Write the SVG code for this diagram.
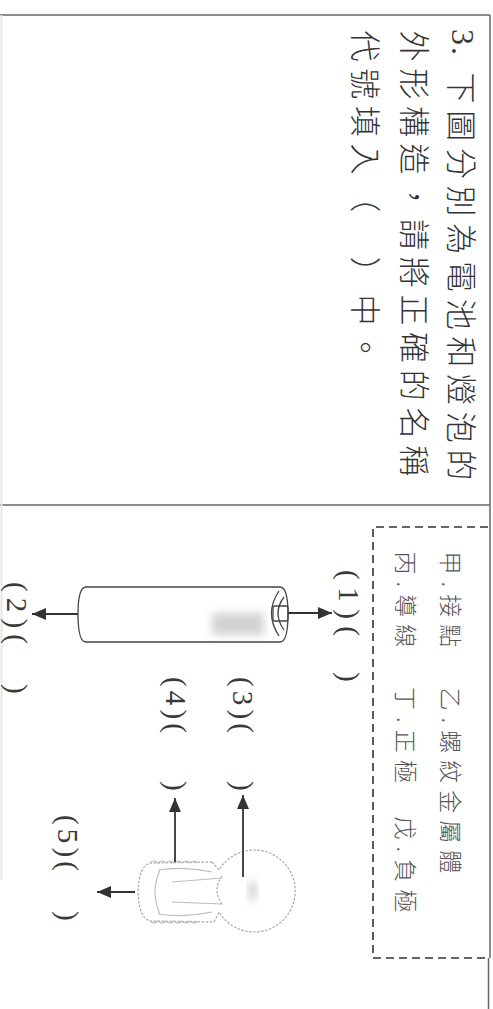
<svg xmlns="http://www.w3.org/2000/svg" width="493" height="1009" viewBox="0 0 493 1009">
  <style>
    .cjk { font-family: "Noto Sans CJK TC", "Noto Sans CJK SC", sans-serif; fill: #333; font-weight: 300; dominant-baseline: central; }
    .q { font-size: 31px; letter-spacing: 6.7px; }
    .key { font-size: 23px; letter-spacing: 7px; fill: #555; }
    .num { font-family: "Liberation Serif", serif; fill: #3a3a3a; dominant-baseline: central; }
    .lbl { font-size: 29px; }
    .frame { fill: none; stroke: #666; stroke-width: 1.5; }
    .dash { fill: none; stroke: #333; stroke-width: 1.6; stroke-dasharray: 8 5; }
    .arrow { stroke: #333; stroke-width: 1.8; fill: none; }
    .cell { fill: none; stroke: #444; stroke-width: 1.3; }
    .lamp { fill: none; stroke: #a8a8a8; stroke-width: 1.2; stroke-dasharray: 2.5 1.5; }
    .thread { fill: none; stroke: #bdbdbd; stroke-width: 1.1; }
  </style>
  <defs>
    <marker id="head" viewBox="0 0 14 12" refX="14" refY="6" markerWidth="14" markerHeight="12" markerUnits="userSpaceOnUse" orient="auto">
      <path d="M0,0 L14,6 L0,12 Z" fill="#333"/>
    </marker>
    <filter id="soft" x="-40%" y="-60%" width="180%" height="220%">
      <feGaussianBlur stdDeviation="4"/>
    </filter>
  </defs>

  <rect width="493" height="1009" fill="#fff"/>

  <!-- page frame -->
  <g id="frame">
    <line class="frame" x1="0" y1="15" x2="490" y2="15"/>
    <line class="frame" x1="0" y1="505" x2="490" y2="505"/>
    <line class="frame" x1="490" y1="15" x2="490" y2="958"/>
    <line class="frame" x1="488.5" y1="958" x2="488.5" y2="1009"/>
    <line x1="1.5" y1="15" x2="1.5" y2="880" stroke="#e6e6e6" stroke-width="2"/>
  </g>

  <!-- question text, set sideways -->
  <g id="question">
    <text class="num" font-size="32" letter-spacing="2" transform="translate(463,29) rotate(90)">3.</text>
    <text class="cjk q" transform="translate(463,72.5) rotate(90)">下圖分別為電池和燈泡的</text>
    <text class="cjk q" transform="translate(416,30.5) rotate(90)">外形構造，請將正確的名稱</text>
    <text class="cjk q" transform="translate(367,30.5) rotate(90)">代號填入（　）中。</text>
  </g>

  <!-- answer key box -->
  <g id="key">
    <path class="dash" d="M488,527 L373,527 L373,958 L488,958"/>
    <text class="cjk key" transform="translate(452,551.5) rotate(90)">甲.接點</text>
    <text class="cjk key" transform="translate(452,687.5) rotate(90)">乙.螺紋金屬體</text>
    <text class="cjk key" transform="translate(407,551.5) rotate(90)">丙.導線</text>
    <text class="cjk key" transform="translate(407,687) rotate(90)">丁.正極</text>
    <text class="cjk key" transform="translate(407,816.5) rotate(90)">戊.負極</text>
  </g>

  <!-- battery -->
  <g id="battery">
    <rect x="212" y="613" width="52" height="22" fill="#d2d2d2" filter="url(#soft)"/>
    <path class="cell" d="M86,587 L280,587 Q288,587 288,614 Q288,642 280,642 L86,642 Q78,642 78,614 Q78,587 86,587 Z"/>
    <path class="cell" d="M279,591 Q264,613 279,636"/>
    <path class="cell" d="M284,597 Q272,613 284,630"/>
    <rect class="cell" x="273" y="606" width="15" height="15" rx="2" fill="#fff"/>
  </g>

  <!-- light bulb -->
  <g id="bulb">
    <!-- glass globe -->
    <path class="lamp" d="M212,862 L219,870 A41,41 0 1 1 219,912 L214,922"/>
    <!-- screw base outline -->
    <path class="lamp" d="M212,862 L150,863 Q139,866 138,892 Q139,918 150,921 L214,922"/>
    <!-- thread ridges -->
    <path class="thread" d="M150,863 q4,-4 8,0 q4,-4 8,0 q4,-4 8,0 q4,-4 8,0 q4,-4 8,0 q4,-4 8,0 M150,921 q4,4 8,0 q4,4 8,0 q4,4 8,0 q4,4 8,0 q4,4 8,0 q4,4 8,0"/>
    <path class="thread" d="M158,870 Q185,866 212,872 M158,914 Q185,918 212,912 M160,870 Q150,892 160,914"/>
    <!-- filament -->
    <path class="lamp" d="M222,876 Q212,890 222,904"/>
    <path class="thread" d="M172,882 L222,878 M172,902 L222,904"/>
    <rect x="249" y="882" width="7" height="18" fill="#cacaca" filter="url(#soft)"/>
  </g>

  <!-- pointer arrows -->
  <g id="connectors">
    <line class="arrow" x1="288" y1="613" x2="332" y2="613" marker-end="url(#head)"/>
    <line class="arrow" x1="78" y1="614" x2="32" y2="614" marker-end="url(#head)"/>
    <line class="arrow" x1="243" y1="877" x2="243" y2="795" marker-end="url(#head)"/>
    <line class="arrow" x1="175" y1="862" x2="175" y2="798" marker-end="url(#head)"/>
    <line class="arrow" x1="135" y1="892" x2="97" y2="892" marker-end="url(#head)"/>
  </g>

  <!-- answer blanks -->
  <g id="label-1">
    <text class="num lbl" textLength="66" lengthAdjust="spacing" transform="translate(349,570) rotate(90)">(1)(</text>
    <text class="num lbl" transform="translate(349,672) rotate(90)">)</text>
  </g>
  <g id="label-2">
    <text class="num lbl" textLength="62" lengthAdjust="spacing" transform="translate(17,582) rotate(90)">(2)(</text>
    <text class="num lbl" transform="translate(17,684) rotate(90)">)</text>
  </g>
  <g id="label-3">
    <text class="num lbl" textLength="56" lengthAdjust="spacing" transform="translate(243,677) rotate(90)">(3)(</text>
    <text class="num lbl" transform="translate(243,781) rotate(90)">)</text>
  </g>
  <g id="label-4">
    <text class="num lbl" textLength="56" lengthAdjust="spacing" transform="translate(176,677) rotate(90)">(4)(</text>
    <text class="num lbl" transform="translate(176,781) rotate(90)">)</text>
  </g>
  <g id="label-5">
    <text class="num lbl" textLength="56" lengthAdjust="spacing" transform="translate(68,815) rotate(90)">(5)(</text>
    <text class="num lbl" transform="translate(68,911) rotate(90)">)</text>
  </g>
</svg>
